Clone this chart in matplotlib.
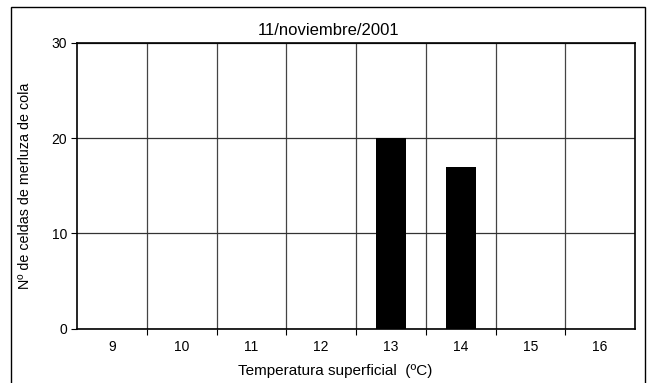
import matplotlib
matplotlib.use("Agg")
import matplotlib.pyplot as plt
from matplotlib.patches import Rectangle

# ── Data ─────────────────────────────────────────────────────────────────────
temps = ["9", "10", "11", "12", "13", "14", "15", "16"]
counts = [0, 0, 0, 0, 20, 17, 0, 0]
y_ticks = [0, 10, 20, 30]

title = "11/noviembre/2001"
xlabel = "Temperatura superficial  (ºC)"
ylabel = "Nº de celdas de merluza de cola"

plt.rcParams["font.family"] = ["Liberation Sans", "DejaVu Sans"]
plt.rcParams["font.size"] = 10

W, H = 655, 383
fig = plt.figure(figsize=(W / 100, H / 100), dpi=100)

# axes box in pixels: left 77, right 635, top 43, bottom 328.7
ax = fig.add_axes([77 / W, 1 - 328.7 / H, (635 - 77) / W, (328.7 - 43) / H])

x = list(range(len(temps)))
ax.bar(x, counts, width=0.43, color="black", zorder=3)

ax.set_xlim(-0.5, len(temps) - 0.5)
ax.set_ylim(0, 30)
ax.set_yticks(y_ticks)

# category labels at centres, ticks/grid at boundaries
ax.set_xticks(x)
ax.set_xticklabels(temps)
ax.tick_params(axis="x", which="major", length=0, pad=8, labelsize=10)
ax.set_xticks([i + 0.5 for i in x[:-1]], minor=True)
ax.tick_params(axis="x", which="minor", length=4, width=0.8, direction="out")
ax.tick_params(axis="y", length=4, width=0.8, direction="out", pad=3, labelsize=10)

ax.grid(axis="x", which="minor", color="#444444", linewidth=0.9, zorder=1)
ax.grid(axis="y", which="major", color="#333333", linewidth=0.9, zorder=1)
ax.set_axisbelow(True)

for s in ax.spines.values():
    s.set_linewidth(1.2)

ax.set_title(title, fontsize=12, x=0.45, pad=6)
ax.set_xlabel(xlabel, fontsize=11)
ax.xaxis.set_label_coords(0.462, -0.125)
ax.set_ylabel(ylabel, fontsize=10.3, labelpad=14)

# outer chart frame
fig.patches.append(Rectangle((10.5 / W, -0.02), (645 - 10.5) / W, 1 - 6.5 / H + 0.02,
                             transform=fig.transFigure, fill=False,
                             edgecolor="black", linewidth=1.0))

fig.savefig("out.png", dpi=100)
